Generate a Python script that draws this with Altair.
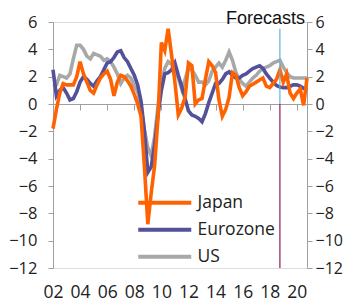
import altair as alt
import pandas as pd

# ---- data (year-on-year % change, quarterly from 2002 Q1) ----
series_names = ["Japan", "Eurozone", "US"]
series_colors = ["#FF6200", "#525199", "#A8A8A8"]
start_year = 2002

japan = [-1.8, -0.4, 0.8, 1.5, 1.4, 1.4, 1.4, 2.0, 3.1, 2.2,
         1.6, 1.0, 0.8, 1.4, 1.9, 2.2, 2.4, 1.8, 0.6, 1.6,
         2.1, 2.0, 1.7, 1.3, 0.7, 0.0, -0.9, -4.6, -8.8, -6.5,
         -4.5, -1.0, 4.5, 3.9, 5.5, 3.6, 1.6, -0.8, -0.3, 0.5,
         3.0, 2.8, 0.0, 0.3, 0.4, 1.8, 3.1, 2.8, 2.3, 0.3,
         -0.9, -0.4, 0.5, 2.3, 2.1, 1.2, 0.6, 0.9, 1.3, 1.45,
         1.6, 1.75, 1.9, 1.3, 1.2, 1.5, 1.8, 2.5, 1.6, 2.2,
         0.8, 0.4, 0.8, 1.1, -0.1, 1.9]

eurozone = [2.5, 0.6, 1.0, 1.2, 0.8, 0.3, 0.4, 0.9, 1.6, 2.0,
            1.8, 1.5, 1.3, 1.7, 2.0, 2.5, 3.0, 3.1, 3.4, 3.8,
            3.9, 3.4, 3.1, 2.6, 2.1, 1.4, 0.2, -2.0, -5.0, -4.6,
            -3.0, -0.8, 1.0, 2.2, 2.3, 2.5, 3.0, 2.1, 1.3, 0.4,
            -0.5, -0.8, -0.9, -1.05, -1.3, -0.7, 0.1, 0.8, 1.5, 1.5,
            1.8, 2.2, 2.35, 2.1, 1.9, 1.9, 2.1, 2.2, 2.4, 2.6,
            2.7, 2.8, 2.6, 2.2, 1.9, 1.6, 1.35, 1.25, 1.2, 1.2,
            1.3, 1.4, 1.4, 1.3, 1.15, 1.05]

us = [1.3, 1.4, 2.1, 2.0, 1.9, 2.2, 3.3, 4.3, 4.3, 4.0,
      3.5, 3.3, 3.7, 3.6, 3.5, 3.2, 3.3, 3.1, 2.7, 2.2,
      1.5, 1.9, 2.1, 1.9, 1.3, 0.9, -0.2, -1.9, -3.2, -3.8,
      -2.4, -0.2, 1.6, 2.6, 3.1, 2.9, 2.5, 1.9, 1.1, 1.8,
      2.6, 2.5, 2.1, 1.6, 1.6, 1.4, 1.7, 2.4, 2.7, 3.0,
      2.7, 3.2, 3.8, 3.2, 2.3, 1.8, 1.5, 1.3, 1.6, 1.9,
      2.1, 2.4, 2.6, 2.7, 2.8, 3.0, 3.1, 3.2, 2.7, 2.3,
      2.0, 1.9, 1.9, 1.9, 1.9, 1.9]

year_ticks = [2002, 2004, 2006, 2008, 2010, 2012, 2014, 2016, 2018, 2020]
y_ticks = [-12, -10, -8, -6, -4, -2, 0, 2, 4, 6]
x_domain = [2002, 2020.75]
y_domain = [-12, 6]
forecast_start = 2018.75
forecast_top = 5.5
forecast_label = "Forecasts"

rows = []
for name, vals in [("US", us), ("Eurozone", eurozone), ("Japan", japan)]:
    for i, v in enumerate(vals):
        rows.append({"t": start_year + i / 4, "value": v, "series": name})
df = pd.DataFrame(rows)

fc = pd.DataFrame({"t": [forecast_start], "top": [forecast_top],
                   "zero": [0], "bottom": [y_domain[0]]})
lab = pd.DataFrame({"t": [x_domain[1]], "y": [y_domain[1]], "text": [forecast_label]})

FONT = "Open Sans"
AXIS_GRAY = "#A0A0A0"
LABEL = "#222222"

xscale = alt.Scale(domain=x_domain, nice=False, zero=False)
yscale = alt.Scale(domain=y_domain, nice=False, zero=False)

x_axis = alt.Axis(values=year_ticks, labelExpr="substring(toString(datum.value), 2)",
                  title=None, grid=False, offset=-164, domainColor=AXIS_GRAY,
                  tickColor=AXIS_GRAY, tickSize=6, labelPadding=173,
                  labelFlush=False, labelOverlap=False, labelBound=False,
                  labelFont=FONT, labelFontSize=17.5, labelColor=LABEL)
x_enc = alt.X("t:Q", scale=xscale, axis=x_axis)

def y_axis(orient, pad, size):
    return alt.Axis(orient=orient, values=y_ticks, title=None, grid=False,
                    domainColor=AXIS_GRAY, tickColor=AXIS_GRAY, tickSize=5,
                    labelPadding=pad, labelFont=FONT, labelFontSize=size,
                    labelFlush=False, labelOverlap=False, labelBound=False,
                    labelColor=LABEL)

lines = alt.Chart(df).mark_line(strokeWidth=3.6).encode(
    x=x_enc,
    y=alt.Y("value:Q", scale=yscale, axis=y_axis("left", 11, 16.5)),
    color=alt.Color("series:N",
                    scale=alt.Scale(domain=series_names, range=series_colors),
                    legend=alt.Legend(orient="none", legendX=103, legendY=172,
                                      title=None, symbolType="M-5.3,0H5.3",
                                      symbolSize=100, symbolStrokeWidth=4,
                                      labelFont=FONT, labelFontSize=17.5,
                                      labelColor=LABEL, labelOffset=24,
                                      rowPadding=8, padding=0)),
)

rule_up = alt.Chart(fc).mark_rule(color="#6AAEDD", strokeWidth=1.2).encode(
    x=x_enc,
    y=alt.Y("zero:Q", scale=yscale, axis=None),
    y2="top:Q",
)

rule_down = alt.Chart(fc).mark_rule(color="#8E1A55", strokeWidth=1.2).encode(
    x=x_enc,
    y=alt.Y("bottom:Q", scale=yscale, axis=y_axis("right", 3, 16)),
    y2="zero:Q",
)

text = alt.Chart(lab).mark_text(font="Liberation Sans", fontSize=18, color="#111111",
                                align="right", baseline="alphabetic", dx=-2, dy=2).encode(
    x=x_enc,
    y=alt.Y("y:Q", scale=yscale, axis=None),
    text="text:N",
)

chart = alt.layer(lines, rule_up, rule_down, text).resolve_axis(y="independent").properties(
    width=254, height=246,
    autosize=alt.AutoSizeParams(type="none"),
    padding={"left": 45, "top": 14, "right": 38, "bottom": 40},
).configure_view(stroke=None).configure(background="white")

chart.save("out.html", embed_options={"renderer": "svg", "actions": False})
